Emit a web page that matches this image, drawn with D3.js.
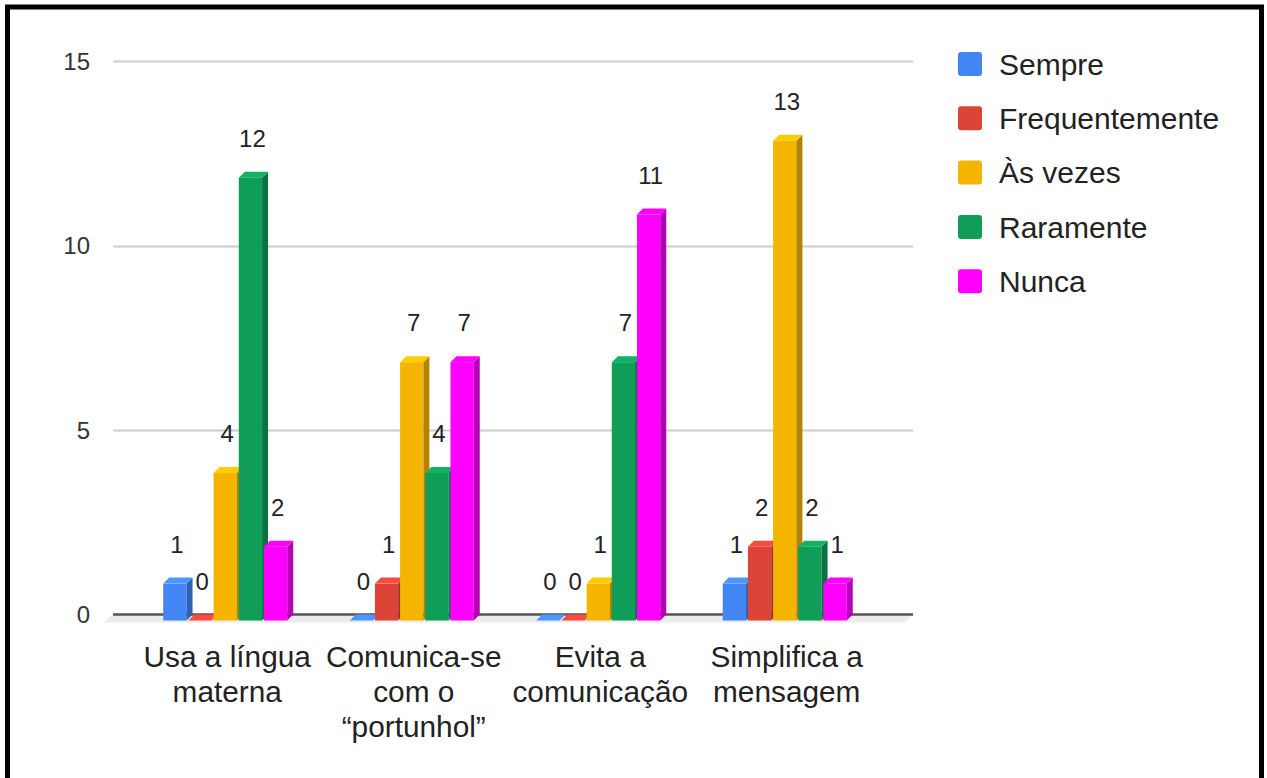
<!DOCTYPE html>
<html>
<head>
<meta charset="utf-8">
<script src="https://cdn.jsdelivr.net/npm/d3@7"></script>
<style>
  html, body { margin: 0; padding: 0; background: #fff; }
  svg { display: block; font-family: "Liberation Sans", Arial, sans-serif; }
</style>
</head>
<body>
<svg id="chart" width="1267" height="778"></svg>
<script>
// Categories (one line per entry of each label)
const categories = ["Usa a língua materna", "Comunica-se com o “portunhol”", "Evita a comunicação", "Simplifica a mensagem"];
const categoryLines = [
  ["Usa a língua", "materna"],
  ["Comunica-se", "com o", "“portunhol”"],
  ["Evita a", "comunicação"],
  ["Simplifica a", "mensagem"]
];
const seriesNames = ["Sempre", "Frequentemente", "Às vezes", "Raramente", "Nunca"];
const seriesColors = ["#4285F4", "#DB4437", "#F4B400", "#0F9D58", "#FF00FF"];

// Counts per category, one array per series
const sempre         = [1, 0, 0, 1];
const frequentemente = [0, 1, 0, 2];
const asVezes        = [4, 7, 1, 13];
const raramente      = [12, 4, 7, 2];
const nunca          = [2, 7, 11, 1];
const seriesValues = [sempre, frequentemente, asVezes, raramente, nunca];

const yTicks = [0, 5, 10, 15];

const svg = d3.select("#chart");

// Plot geometry
const plotLeft = 113, plotRight = 913;
const depthX = 6, depthY = 6;   // 3D extrusion offset

const y = d3.scaleLinear().domain([0, 15]).range([614.5, 61]);

const x0 = d3.scaleBand()
  .domain(categories)
  .range([132, 878])
  .paddingInner(0.335)
  .paddingOuter(0.1675);

const x1 = d3.scaleBand()
  .domain(seriesNames)
  .range([0, x0.bandwidth()])
  .paddingInner(0.075);

// Gridlines
svg.append("g").selectAll("line")
  .data(yTicks.filter(t => t > 0))
  .join("line")
  .attr("x1", plotLeft).attr("x2", plotRight)
  .attr("y1", d => Math.round(y(d)) + 0.5).attr("y2", d => Math.round(y(d)) + 0.5)
  .attr("stroke", "#cccccc").attr("stroke-width", 2);

// Floor of the 3D plot
const y0 = y(0);
svg.append("path")
  .attr("d", `M${plotLeft},${y0} L${plotRight},${y0} L${plotRight - 8},${y0 + 8} L${plotLeft - 10},${y0 + 8} Z`)
  .attr("fill", "#ececec");

// Baseline
svg.append("line")
  .attr("x1", plotLeft).attr("x2", plotRight)
  .attr("y1", y0).attr("y2", y0)
  .attr("stroke", "#555").attr("stroke-width", 2.5);

// Y axis tick labels
svg.append("g").selectAll("text")
  .data(yTicks)
  .join("text")
  .attr("x", 90)
  .attr("y", d => y(d))
  .attr("dy", "0.36em")
  .attr("text-anchor", "end")
  .attr("font-size", 24)
  .attr("fill", "#333")
  .text(d => d);

// Face shading helpers
const sideColor = c => d3.color(c).darker(0.9).formatHex();
const topColor = c => d3.color(c).brighter(0.35).formatHex();

// Bars as extruded 3D columns
const bars = [];
categories.forEach((cat, ci) => {
  seriesNames.forEach((s, si) => {
    bars.push({ cat, ci, s, si, v: seriesValues[si][ci], color: seriesColors[si] });
  });
});

const w = x1.bandwidth();
const barG = svg.append("g");
bars.forEach(b => {
  const bx = x0(b.cat) + x1(b.s);
  const yt = y(b.v);
  const g = barG.append("g");
  if (b.v > 0) {
    // front face
    g.append("rect")
      .attr("x", bx).attr("y", yt + depthY)
      .attr("width", w).attr("height", y0 - yt)
      .attr("fill", b.color);
    // right side face
    g.append("path")
      .attr("d", `M${bx + w},${yt + depthY} L${bx + w + depthX},${yt} L${bx + w + depthX},${y0} L${bx + w},${y0 + depthY} Z`)
      .attr("fill", sideColor(b.color));
  }
  // top face
  g.append("path")
    .attr("d", `M${bx},${yt + depthY} L${bx + depthX},${yt} L${bx + w + depthX},${yt} L${bx + w},${yt + depthY} Z`)
    .attr("fill", topColor(b.color));
});

// Value labels
svg.append("g").selectAll("text")
  .data(bars)
  .join("text")
  .attr("x", d => x0(d.cat) + x1(d.s) + (w + depthX) / 2 - 1)
  .attr("y", d => y(d.v) - 25)
  .attr("text-anchor", "middle")
  .attr("font-size", 24)
  .attr("fill", "#222")
  .text(d => d.v);

// Category labels
const catG = svg.append("g");
categories.forEach((cat, ci) => {
  const cx = x0(cat) + (x0.bandwidth() + depthX) / 2 - 1;
  const t = catG.append("text")
    .attr("text-anchor", "middle")
    .attr("font-size", 29.8)
    .attr("fill", "#222");
  categoryLines[ci].forEach((line, li) => {
    t.append("tspan").attr("x", cx).attr("y", 667 + li * 35).text(line);
  });
});

// Legend
const legend = svg.append("g").selectAll("g")
  .data(seriesNames)
  .join("g")
  .attr("transform", (d, i) => `translate(958, ${64 + i * 54.3})`);
legend.append("rect")
  .attr("x", 0).attr("y", -12)
  .attr("width", 24).attr("height", 24)
  .attr("rx", 3)
  .attr("fill", (d, i) => seriesColors[i]);
legend.append("text")
  .attr("x", 41).attr("y", 0)
  .attr("dy", "0.36em")
  .attr("font-size", 30)
  .attr("fill", "#222")
  .text(d => d);

// Frame
svg.append("rect")
  .attr("x", 7.5).attr("y", 7)
  .attr("width", 1254).attr("height", 820)
  .attr("fill", "none")
  .attr("stroke", "#000")
  .attr("stroke-width", 5);
</script>
</body>
</html>
